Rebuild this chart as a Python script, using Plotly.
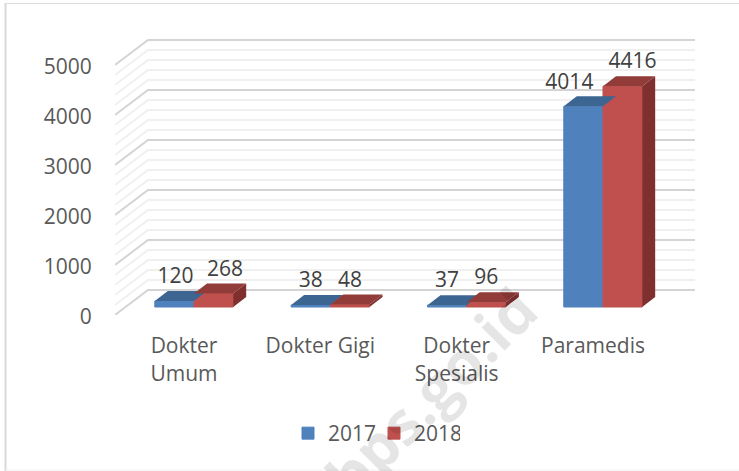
import plotly.graph_objects as go

# Data
categories = ["Dokter<br>Umum", "Dokter Gigi", "Dokter<br>Spesialis", "Paramedis"]
series_names = ["2017", "2018"]
values_2017 = [120, 38, 37, 4014]
values_2018 = [268, 48, 96, 4416]
major_ticks = [0, 1000, 2000, 3000, 4000, 5000]
minor_ticks = [v for v in range(0, 5001, 200)]

# Layout geometry
W, H = 739, 471
L, R, T, B = 115, 695, 39, 315
PX_PER_CAT = 136.33
CAT0_PX = 194.0
PX_PER_UNIT = 0.05
x_range = [(L - CAT0_PX) / PX_PER_CAT, (R - CAT0_PX) / PX_PER_CAT]
y_range = [0, (B - T) / PX_PER_UNIT]
px_x = lambda p: p / PX_PER_CAT
px_y = lambda p: p / PX_PER_UNIT

bar_w = px_x(39.2)
base = px_y(8)
depth_x, depth_y = px_x(13), px_y(10)
wall_x, wall_y = px_x(33), px_y(25)

BLUE, BLUE_TOP = "#4f81bd", "#3d6591"
RED, RED_TOP, RED_SIDE = "#c0504d", "#913c39", "#7f302e"
FONT = "Open Sans"
FS = 21

fig = go.Figure()
xs = list(range(len(categories)))

# front faces
for name, vals, col, off in [(series_names[0], values_2017, BLUE, -bar_w),
                             (series_names[1], values_2018, RED, 0)]:
    fig.add_trace(go.Bar(x=xs, y=vals, base=base, width=bar_w, offset=off, name=name,
                         marker=dict(color=col, line=dict(width=1, color=col))))

# tops and sides, 3D extrusion derived from the values
def poly(px, py, col):
    fig.add_trace(go.Scatter(x=px, y=py, mode="lines", fill="toself", fillcolor=col,
                             line=dict(width=0, color=col), showlegend=False, hoverinfo="skip"))

for i in xs:
    v1, v2 = values_2017[i], values_2018[i]
    xl, xm, xr = i - bar_w, i, i + bar_w
    t1, t2 = base + v1, base + v2
    poly([xl, xm, xm + depth_x, xl + depth_x, xl], [t1, t1, t1 + depth_y, t1 + depth_y, t1], BLUE_TOP)
    poly([xr, xr + depth_x, xr + depth_x, xr, xr],
         [base, base + depth_y, t2 + depth_y, t2, base], RED_SIDE)
    poly([xm, xr, xr + depth_x, xm + depth_x, xm], [t2, t2, t2 + depth_y, t2 + depth_y, t2], RED_TOP)

# data labels
nudge_2017 = [1.2, 0, 0, -14]
nudge_2018 = [11.4, 0, 0, 10]
lab_x, lab_y, lab_t = [], [], []
for i in xs:
    lab_x += [i - bar_w / 2 + px_x(nudge_2017[i]), i + bar_w / 2 + px_x(nudge_2018[i])]
    lab_y += [base + values_2017[i] + px_y(23), base + values_2018[i] + px_y(23)]
    lab_t += [str(values_2017[i]), str(values_2018[i])]
fig.add_trace(go.Scatter(x=lab_x, y=lab_y, text=lab_t, mode="text", textposition="middle center",
                         textfont=dict(family=FONT, size=FS, color="#404040"),
                         showlegend=False, hoverinfo="skip", cliponaxis=False))

# back-wall grid
shapes = []
def grid(v, col, w):
    path = (f"M {x_range[0]} {v} L {x_range[0] + wall_x} {v + wall_y} "
            f"L {x_range[1]} {v + wall_y}")
    shapes.append(dict(type="path", path=path, xref="x", yref="y", layer="below",
                       line=dict(color=col, width=w)))
for v in minor_ticks:
    if v not in major_ticks:
        grid(v, "#f0f0f0", 2)
for v in major_ticks:
    grid(v, "#d4d4d4", 2)

# picture frame
shapes += [
    dict(type="line", xref="paper", yref="paper", x0=(5.5 - L) / (R - L), x1=(5.5 - L) / (R - L),
         y0=(B - 3) / (B - T), y1=(B - 471) / (B - T), line=dict(color="#d9d9d9", width=2)),
    dict(type="line", xref="paper", yref="paper", x0=(5.5 - L) / (R - L), x1=(739 - L) / (R - L),
         y0=(B - 3.5) / (B - T), y1=(B - 3.5) / (B - T), line=dict(color="#dcdcdc", width=1)),
    dict(type="line", xref="paper", yref="paper", x0=(5.5 - L) / (R - L), x1=(739 - L) / (R - L),
         y0=(B - 470) / (B - T), y1=(B - 470) / (B - T), line=dict(color="#f0f0f0", width=1)),
]

fig.update_layout(
    width=W, height=H, margin=dict(l=L, r=W - R, t=T, b=H - B),
    paper_bgcolor="white", plot_bgcolor="rgba(0,0,0,0)",
    barmode="overlay", shapes=shapes,
    font=dict(family=FONT, size=FS, color="#595959"),
    xaxis=dict(range=x_range, tickmode="array", tickvals=[i - px_x(10) for i in xs],
               ticktext=categories, showgrid=False, zeroline=False, showline=False,
               ticks="outside", ticklen=12, tickcolor="rgba(0,0,0,0)",
               tickfont=dict(family=FONT, size=FS, color="#595959")),
    yaxis=dict(range=y_range, tickmode="array", tickvals=major_ticks, showgrid=False,
               zeroline=False, showline=False, ticks="outside", ticklen=18,
               ticklabelshift=2,
               tickcolor="rgba(0,0,0,0)", tickfont=dict(family=FONT, size=FS, color="#595959")),
    legend=dict(orientation="h", x=(288 - L) / (R - L), xanchor="left", y=(B - 413) / (B - T),
                yanchor="top", font=dict(family=FONT, size=FS, color="#595959"),
                bgcolor="rgba(0,0,0,0)", itemclick=False, itemdoubleclick=False,
                entrywidth=41, entrywidthmode="pixels"),
    annotations=[dict(text="<b>bps.go.id</b>", textangle=-45, x=(430 - L) / (R - L), y=(B - 393) / (B - T),
                      xanchor="center", yanchor="middle",
                      xref="paper", yref="paper", showarrow=False,
                      font=dict(family="Open Sans", size=60, color="rgba(0,0,0,0.1)"))],
)

fig.write_html("out.html", config={"displayModeBar": False},
               post_script="document.body.style.margin='0';")
